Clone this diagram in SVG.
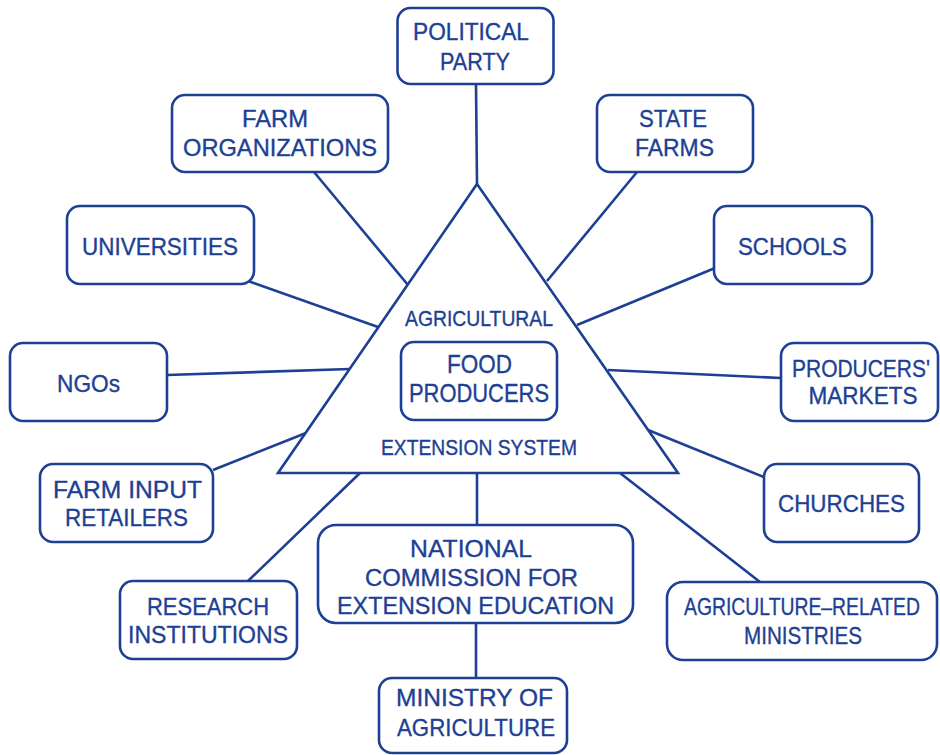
<svg xmlns="http://www.w3.org/2000/svg" width="940" height="755" viewBox="0 0 940 755">
<style>
.box{fill:#fff;stroke:#1d3f94;stroke-width:2.6}
.ln{stroke:#1d3f94;stroke-width:2.6;fill:none}
text{font-family:"Liberation Sans",Arial,sans-serif;fill:#1d3f94;stroke:#1d3f94;stroke-width:0.35;text-anchor:middle;font-size:24px}
.s{font-size:22px}
.f{font-size:26px}
</style>
<rect width="940" height="755" fill="#fff"/>
<g id="connectors">
<line class="ln" x1="476" y1="84" x2="477" y2="184"/>
<line class="ln" x1="314" y1="172" x2="408" y2="285"/>
<line class="ln" x1="637" y1="172" x2="547" y2="281"/>
<line class="ln" x1="248" y1="281" x2="378" y2="327"/>
<line class="ln" x1="715" y1="268" x2="577" y2="325"/>
<line class="ln" x1="167" y1="375" x2="350" y2="369"/>
<line class="ln" x1="608" y1="370" x2="781" y2="378"/>
<line class="ln" x1="213" y1="470" x2="306" y2="433"/>
<line class="ln" x1="648" y1="430" x2="766" y2="478"/>
<line class="ln" x1="248" y1="581" x2="360" y2="473"/>
<line class="ln" x1="477" y1="473" x2="477" y2="525"/>
<line class="ln" x1="620" y1="473" x2="760" y2="582"/>
<line class="ln" x1="476" y1="623" x2="476" y2="678"/>
</g>
<g id="triangle">
<polygon class="box" points="477,184 278,473 678,473" stroke-linejoin="miter"/>
<text class="s" x="479" y="326" textLength="148" lengthAdjust="spacingAndGlyphs">AGRICULTURAL</text>
<text class="s" x="479" y="455" textLength="196" lengthAdjust="spacingAndGlyphs">EXTENSION SYSTEM</text>
</g>
<g id="food-producers">
<rect class="box" x="401" y="342" width="156" height="78" rx="13"/>
<text class="f" x="479.5" y="373" textLength="65" lengthAdjust="spacingAndGlyphs">FOOD</text>
<text class="f" x="479" y="402" textLength="140" lengthAdjust="spacingAndGlyphs">PRODUCERS</text>
</g>
<g id="political-party">
<rect class="box" x="397.5" y="8" width="156" height="76" rx="13"/>
<text x="471" y="40" textLength="116" lengthAdjust="spacingAndGlyphs">POLITICAL</text>
<text x="475" y="70" textLength="70" lengthAdjust="spacingAndGlyphs">PARTY</text>
</g>
<g id="farm-organizations">
<rect class="box" x="172" y="95" width="216" height="77" rx="13"/>
<text x="275" y="127" textLength="66" lengthAdjust="spacingAndGlyphs">FARM</text>
<text x="280" y="156" textLength="194" lengthAdjust="spacingAndGlyphs">ORGANIZATIONS</text>
</g>
<g id="state-farms">
<rect class="box" x="597" y="95" width="156" height="77" rx="13"/>
<text x="673" y="127" textLength="68" lengthAdjust="spacingAndGlyphs">STATE</text>
<text x="674.5" y="156" textLength="79" lengthAdjust="spacingAndGlyphs">FARMS</text>
</g>
<g id="universities">
<rect class="box" x="67" y="206" width="187" height="78" rx="13"/>
<text x="160" y="255" textLength="156" lengthAdjust="spacingAndGlyphs">UNIVERSITIES</text>
</g>
<g id="schools">
<rect class="box" x="714" y="206" width="158" height="78" rx="13"/>
<text x="792.5" y="255" textLength="109" lengthAdjust="spacingAndGlyphs">SCHOOLS</text>
</g>
<g id="ngos">
<rect class="box" x="10" y="343" width="157" height="78" rx="13"/>
<text x="88.5" y="392" textLength="63" lengthAdjust="spacingAndGlyphs">NGOs</text>
</g>
<g id="producers-markets">
<rect class="box" x="781" y="343" width="157" height="78" rx="13"/>
<text x="861" y="377" textLength="138" lengthAdjust="spacingAndGlyphs">PRODUCERS'</text>
<text x="863" y="404" textLength="109" lengthAdjust="spacingAndGlyphs">MARKETS</text>
</g>
<g id="farm-input-retailers">
<rect class="box" x="40" y="464" width="173" height="78" rx="13"/>
<text x="127.5" y="498" textLength="149" lengthAdjust="spacingAndGlyphs">FARM INPUT</text>
<text x="126.5" y="526" textLength="123" lengthAdjust="spacingAndGlyphs">RETAILERS</text>
</g>
<g id="churches">
<rect class="box" x="764" y="464" width="155" height="78" rx="13"/>
<text x="841.5" y="512" textLength="127" lengthAdjust="spacingAndGlyphs">CHURCHES</text>
</g>
<g id="research-institutions">
<rect class="box" x="120" y="581" width="177" height="78" rx="13"/>
<text x="208" y="615" textLength="122" lengthAdjust="spacingAndGlyphs">RESEARCH</text>
<text x="208" y="643" textLength="160" lengthAdjust="spacingAndGlyphs">INSTITUTIONS</text>
</g>
<g id="national-commission">
<rect class="box" x="318" y="525" width="315" height="98" rx="18"/>
<text x="471" y="557" textLength="122" lengthAdjust="spacingAndGlyphs">NATIONAL</text>
<text x="471.5" y="586" textLength="213" lengthAdjust="spacingAndGlyphs">COMMISSION FOR</text>
<text x="475.5" y="614" textLength="277" lengthAdjust="spacingAndGlyphs">EXTENSION EDUCATION</text>
</g>
<g id="agriculture-related-ministries">
<rect class="box" x="667" y="582" width="270" height="78" rx="16"/>
<text x="802" y="615" textLength="236" lengthAdjust="spacingAndGlyphs">AGRICULTURE–RELATED</text>
<text x="803" y="644" textLength="118" lengthAdjust="spacingAndGlyphs">MINISTRIES</text>
</g>
<g id="ministry-of-agriculture">
<rect class="box" x="379" y="678" width="188" height="75" rx="13"/>
<text x="474.5" y="706" textLength="157" lengthAdjust="spacingAndGlyphs">MINISTRY OF</text>
<text x="476" y="736" textLength="158" lengthAdjust="spacingAndGlyphs">AGRICULTURE</text>
</g>
</svg>
